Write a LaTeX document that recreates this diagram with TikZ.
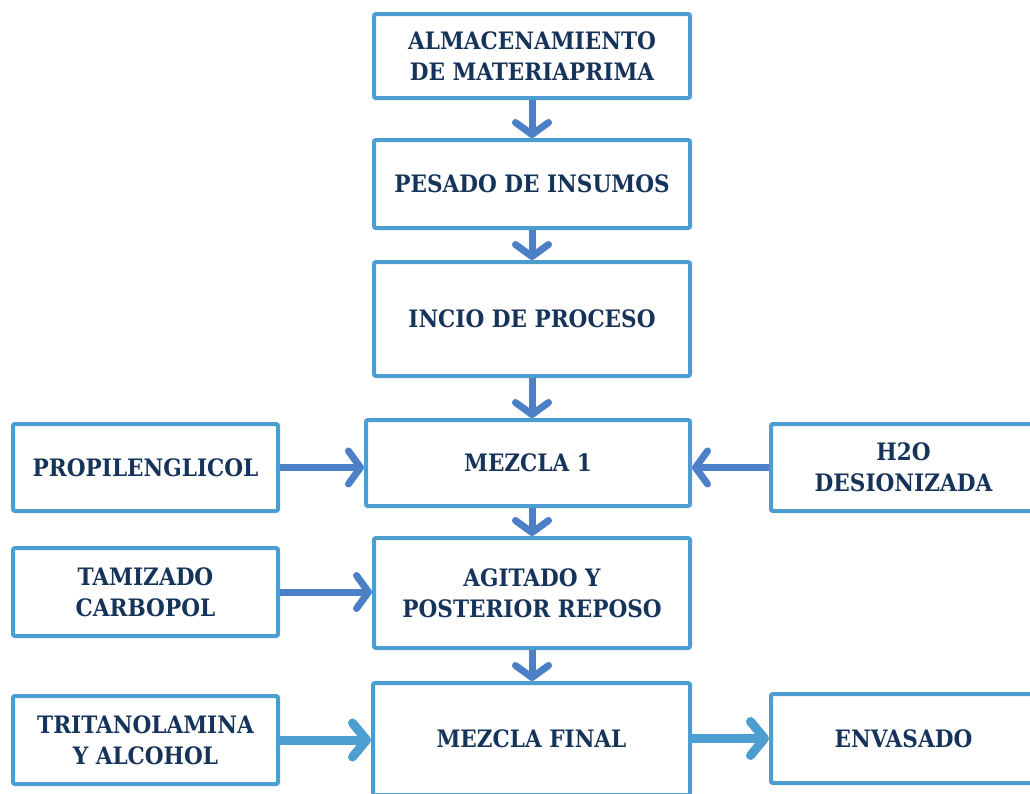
\documentclass[tikz,border=0pt]{standalone}
\usepackage{fontspec}
\setmainfont{DejaVu Serif Condensed}[BoldFont={DejaVu Serif Condensed Bold}]
\usetikzlibrary{arrows.meta}
\definecolor{boxblue}{RGB}{75,158,207}
\definecolor{arrblue}{RGB}{76,128,198}
\definecolor{txtnavy}{RGB}{22,52,90}
\tikzset{
  pbox/.style={draw=boxblue, line width=4pt, rounded corners=2pt, fill=white,
    inner sep=0pt, align=center, text=txtnavy,
    font=\fontsize{24}{31}\selectfont\bfseries},
  flowarrow/.style={draw=arrblue, line width=7pt,
    -{Straight Barb[length=12pt,width=33pt,round]}},
  bigarrow/.style={draw=boxblue, line width=9pt,
    -{Straight Barb[length=14pt,width=34pt,round]}},
}
\begin{document}
\begin{tikzpicture}[x=1pt,y=-1pt]
\useasboundingbox (0,0) rectangle (1030,793);
\node[pbox, minimum width=316pt, minimum height=84pt] (alm) at (532,56) {ALMACENAMIENTO\\DE MATERIAPRIMA};
\node[pbox, minimum width=316pt, minimum height=88pt] (pes) at (532,184) {PESADO DE INSUMOS};
\node[pbox, minimum width=316pt, minimum height=114pt] (inc) at (532,319) {INCIO DE PROCESO};
\node[pbox, minimum width=324pt, minimum height=86pt] (mez) at (528,463) {MEZCLA 1};
\node[pbox, minimum width=265pt, minimum height=87pt] (pro) at (145.5,467.5) {PROPILENGLICOL};
\node[pbox, minimum width=265pt, minimum height=87pt] (h2o) at (903.5,467.5) {H2O\\DESIONIZADA};
\node[pbox, minimum width=265pt, minimum height=88pt] (tam) at (145.5,592) {TAMIZADO\\CARBOPOL};
\node[pbox, minimum width=316pt, minimum height=110pt] (agi) at (532,593) {AGITADO Y\\POSTERIOR REPOSO};
\node[pbox, minimum width=265pt, minimum height=88pt] (tri) at (145.5,740) {TRITANOLAMINA\\Y ALCOHOL};
\node[pbox, minimum width=317pt, minimum height=112pt] (fin) at (531.5,739) {MEZCLA FINAL};
\node[pbox, minimum width=265pt, minimum height=89pt] (env) at (903.5,738.5) {ENVASADO};

\draw[flowarrow] (alm.south) -- (pes.north);
\draw[flowarrow] (pes.south) -- (inc.north);
\draw[flowarrow] (inc.south) -- (mez.north -| inc.south);
\draw[flowarrow] (mez.south -| agi.north) -- (agi.north);
\draw[flowarrow] (agi.south) -- (fin.north -| agi.south);
\draw[flowarrow] (pro.east) -- (mez.west |- pro.east);
\draw[flowarrow] (h2o.west) -- (mez.east |- h2o.west);
\draw[flowarrow] (tam.east) -- (agi.west |- tam.east);
\draw[bigarrow] (tri.east) -- (fin.west |- tri.east);
\draw[bigarrow] (fin.east |- env.west) -- (env.west);
\end{tikzpicture}
\end{document}
